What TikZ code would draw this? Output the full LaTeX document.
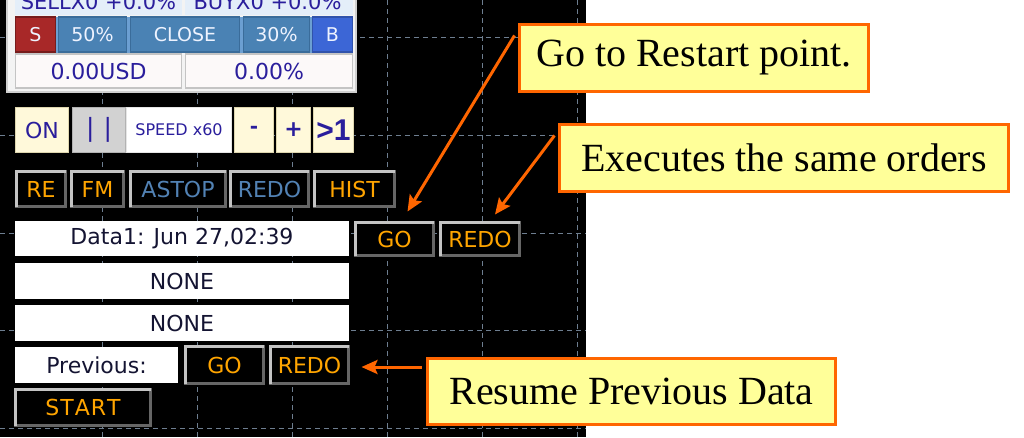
\documentclass[tikz,border=0pt]{standalone}
\usepackage{fontspec}
\usetikzlibrary{arrows.meta,calc}
\newfontfamily\uifont{DejaVu Sans}
\newfontfamily\narrowfont{Liberation Sans}
\newfontfamily\callfont{Liberation Serif}
\definecolor{gridc}{HTML}{6E7E90}
\definecolor{callfill}{HTML}{FFFF99}
\definecolor{callline}{HTML}{FF6600}
\definecolor{btnlight}{HTML}{C4C4C4}
\definecolor{btndark}{HTML}{666666}
\definecolor{uiorange}{HTML}{FFA500}
\definecolor{uisteel}{HTML}{5282B4}
\definecolor{uidark}{HTML}{141432}
\definecolor{panelbg}{HTML}{F3F3F3}
\definecolor{panelline}{HTML}{D0D0D0}
\definecolor{sellbg}{HTML}{E4EEF9}
\definecolor{redS}{HTML}{A82828}
\definecolor{steel}{HTML}{4A82B4}
\definecolor{steelline}{HTML}{3A6C9A}
\definecolor{blueB}{HTML}{3C66D6}
\definecolor{rowbg}{HTML}{6C9FD2}
\definecolor{cellbg}{HTML}{FCF9F9}
\definecolor{cellline}{HTML}{C4C4C4}
\definecolor{cornsilk}{HTML}{FFF9DA}
\definecolor{cornline}{HTML}{DED6AE}
\definecolor{pausebg}{HTML}{D2D2D2}
\definecolor{lighttext}{HTML}{EEF3FF}
\definecolor{numtext}{HTML}{2A1E9C}
\tikzset{
  box/.style={rectangle, inner sep=0pt, outer sep=0pt},
  ui/.style={font=\uifont\fontsize{22}{26}\selectfont},
  uismall/.style={font=\uifont\fontsize{19}{23}\selectfont},
  btn/.style={box, ui, fill=black, draw=btndark, line width=3pt},
  whitecell/.style={box, ui, fill=white, text=uidark},
  topcell/.style={box, uismall, fill=steel, draw=steelline, line width=1.5pt, text=lighttext, minimum height=35pt},
  numcell/.style={box, ui, fill=cellbg, draw=cellline, line width=1.5pt, text=numtext, minimum height=34pt},
  toolcell/.style={box, ui, fill=cornsilk, draw=cornline, line width=1.5pt, text=numtext, minimum height=45pt},
  callout/.style={box, fill=callfill, draw=callline, line width=3pt, font=\callfont\fontsize{40}{48}\selectfont, text=black},
  callarrow/.style={draw=callline, line width=3pt, -{Stealth[length=16pt,width=14pt,inset=3pt]}},
  gridline/.style={draw=gridc, line width=1pt, dash pattern=on 5pt off 4pt}
}
\begin{document}
\begin{tikzpicture}[x=1pt,y=-1pt]
\useasboundingbox (0,0) rectangle (1024,437);
\clip (0,0) rectangle (1024,437);
\fill[white] (0,0) rectangle (1024,437);
\fill[black] (0,0) rectangle (586,437);
% grid
\foreach \gx in {102,197,292,387,482,577} \draw[gridline] (\gx,0) -- (\gx,437);
\foreach \gy in {37,135,233,330,428} \draw[gridline] (0,\gy) -- (586,\gy);
% top panel
\node[box, fill=panelbg, draw=panelline, line width=2pt, minimum width=349pt, minimum height=97pt] (panel) at (181.5,43.5) {};
\node[box, fill=sellbg, minimum width=167pt, minimum height=20pt] (sellc) at (98.5,5) {};
\node[box, fill=sellbg, minimum width=168pt, minimum height=20pt] (buyc) at (269,5) {};
\node[box, anchor=base, text=numtext, font=\uifont\fontsize{21}{25}\selectfont] (selltxt) at (98.5,9.5) {SELLX0 +0.0\%};
\node[box, anchor=base, text=numtext, font=\uifont\fontsize{21}{25}\selectfont] (buytxt) at (267.5,9.5) {BUYX0 +0.0\%};
\fill[rowbg] (15,17) rectangle (353,53);
\node[topcell, fill=redS, draw=redS!70!black, minimum width=40pt] (sbtn) at (35.5,34.5) {S};
\node[topcell, minimum width=68pt] (p50) at (92.5,34.5) {50\%};
\node[topcell, minimum width=109pt] (close) at (185,34.5) {CLOSE};
\node[topcell, minimum width=66pt] (p30) at (276.5,34.5) {30\%};
\node[topcell, fill=blueB, draw=blueB!80!black, minimum width=40pt] (bbtn) at (332.5,34.5) {B};
\node[numcell, minimum width=166pt] (usd) at (98.5,71) {0.00USD};
\node[numcell, minimum width=167pt] (pct) at (269,71) {0.00\%};
% toolbar
\node[toolcell, minimum width=53pt] (on) at (42,130) {ON};
\node[toolcell, fill=pausebg, draw=pausebg!85!black, minimum width=53pt, font=\uifont\fontsize{25}{28}\selectfont] (pause) at (99,130) {|\hspace{9pt}|};
\node[toolcell, fill=white, draw=white!90!black, minimum width=105pt, font=\uifont\fontsize{16}{20}\selectfont] (speed) at (179,130) {SPEED x60};
\node[toolcell, minimum width=39pt, font=\uifont\bfseries\fontsize{20}{24}\selectfont] (minus) at (254,130) {-};
\node[toolcell, minimum width=34pt, font=\uifont\bfseries\fontsize{22}{26}\selectfont] (plus) at (293.5,130) {+};
\node[toolcell, minimum width=40pt, font=\narrowfont\bfseries\fontsize{30}{34}\selectfont] (gtone) at (333.5,130) {>1};
% button row
\node[btn, text=uiorange, minimum width=49pt, minimum height=35pt] (re) at (41,189) {RE};
\node[btn, text=uiorange, minimum width=52pt, minimum height=35pt] (fm) at (97.5,189) {FM};
\node[btn, text=uisteel, minimum width=95pt, minimum height=35pt] (astop) at (178,189) {ASTOP};
\node[btn, text=uisteel, minimum width=78pt, minimum height=35pt] (redoa) at (269.5,189) {REDO};
\node[btn, text=uiorange, minimum width=80pt, minimum height=35pt] (hist) at (354.5,189) {HIST};
% data rows
\node[whitecell, minimum width=334pt, minimum height=35pt] (data) at (182,238.5) {Data1: Jun 27,02:39};
\node[whitecell, minimum width=334pt, minimum height=36pt] (nonea) at (182,281) {NONE};
\node[whitecell, minimum width=334pt, minimum height=36pt] (noneb) at (182,323) {NONE};
\node[whitecell, minimum width=163pt, minimum height=36pt] (prev) at (96.5,365) {Previous:};
\node[btn, text=uiorange, minimum width=78pt, minimum height=37pt] (gob) at (224.5,365) {GO};
\node[btn, text=uiorange, minimum width=78pt, minimum height=37pt] (redob) at (309.5,365) {REDO};
\node[btn, text=uiorange, minimum width=135pt, minimum height=36pt] (start) at (83,407.5) {S\kern1ptT\kern1ptA\kern1ptR\kern1ptT};
\node[btn, text=uiorange, minimum width=78pt, minimum height=33pt] (goa) at (394.5,239) {GO};
\node[btn, text=uiorange, minimum width=79pt, minimum height=33pt] (redoc) at (480,239) {REDO};
\foreach \n in {re,fm,astop,redoa,hist,gob,redob,start,goa,redoc}
  \draw[btnlight, line width=3pt] (\n.south west) -- (\n.north west) -- (\n.north east);
% callouts
\node[callout, minimum width=349pt, minimum height=67pt] (ca) at (694,58) {Go to Restart point.};
\node[callout, minimum width=449pt, minimum height=67pt] (cb) at (784,158) {Executes the same orders};
\node[callout, minimum width=408pt, minimum height=66pt] (cc) at (631.5,391.5) {Resume Previous Data};
\draw[callarrow] ($(ca.north west)+(-5,11)$) -- ($(goa.north)+(13,-11)$);
\draw[callarrow] ($(cb.north west)+(-5,11)$) -- ($(redoc.north)+(15,-8)$);
\draw[callarrow] ($(cc.west)+(-6,-24.5)$) -- ($(redob.east)+(13,2)$);
\end{tikzpicture}
\end{document}
